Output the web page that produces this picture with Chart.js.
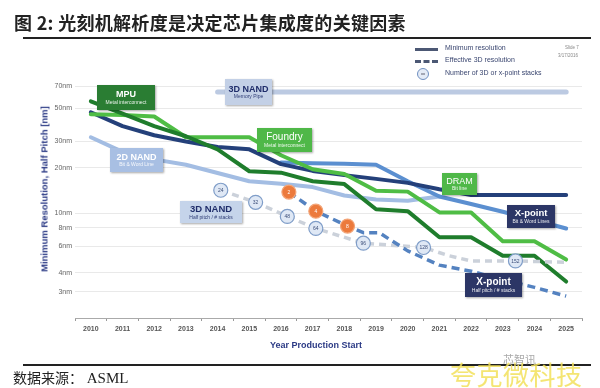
<!DOCTYPE html>
<html>
<head>
<meta charset="utf-8">
<script src="https://cdn.jsdelivr.net/npm/chart.js@4.4.0/dist/chart.umd.min.js"></script>
<style>
  body { margin: 0; background: #fff; }
  #wrap { position: relative; width: 600px; height: 388px; overflow: hidden; background: #fff; font-family: "Liberation Sans", Arial, sans-serif; }
  #c { position: absolute; left: 0; top: 0; }
  .abs { position: absolute; white-space: nowrap; }
  .tag { position: absolute; display: flex; flex-direction: column; justify-content: center; align-items: center;
         box-shadow: 1px 1px 2px rgba(0,0,0,.35); line-height: 1.15; white-space: nowrap; }
  .tag .big { font-weight: bold; }
  .rule { position: absolute; left: 23px; width: 568px; height: 1.5px; background: #222; }
</style>
</head>
<body>
<div id="wrap">
  <canvas id="c" width="600" height="388"></canvas>

  <div class="abs" style="left:14px;top:9px;font-family:'Noto Sans CJK SC';font-weight:bold;font-size:18px;color:#222;letter-spacing:0.3px;">图 2:&nbsp;光刻机解析度是决定芯片集成度的关键因素</div>
  <div class="rule" style="top:37px;"></div>

  <!-- legend -->
  <div class="abs" style="left:415px;top:48px;width:23px;height:3px;background:#4c5874;"></div>
  <div class="abs" style="left:415px;top:60px;width:23px;height:0;border-top:3px dashed #4c5874;"></div>
  <div class="abs" style="left:417px;top:68px;width:10px;height:10px;border:1px solid #6f8fc0;border-radius:50%;background:#e4ebf6;font-size:4px;line-height:10px;text-align:center;color:#334;">xx</div>
  <div class="abs" style="left:445px;top:44px;font-size:7px;color:#3a4670;">Minimum resolution</div>
  <div class="abs" style="left:445px;top:56px;font-size:7px;color:#3a4670;">Effective 3D resolution</div>
  <div class="abs" style="left:445px;top:69px;font-size:7px;color:#3a4670;">Number of 3D or x-point stacks</div>
  <div class="abs" style="left:565px;top:45px;font-size:4.5px;color:#888;">Slide 7</div>
  <div class="abs" style="left:558px;top:53px;font-size:4.5px;color:#888;">3/17/2016</div>

  <!-- axis titles -->
  <div class="abs" style="left:44px;top:189px;transform:translate(-50%,-50%) rotate(-90deg);font-weight:bold;font-size:9.5px;color:#2b3a85;">Minimum Resolution, Half Pitch [nm]</div>
  <div class="abs" style="left:316px;top:345px;transform:translate(-50%,-50%);font-weight:bold;font-size:9px;color:#2b3a85;">Year Production Start</div>

  <div id="tags"></div>

  <div class="rule" style="top:364px;"></div>
  <div class="abs" style="left:13px;top:369px;font-family:'Noto Sans CJK SC';font-size:14px;color:#222;line-height:16px;">数据来源：<span style="font-family:'Liberation Serif';font-size:15px;">&nbsp;ASML</span></div>
  <div class="abs" style="left:503px;top:352px;font-family:'Noto Sans CJK SC';font-size:11px;line-height:14px;color:#aaa;">芯智讯</div>
  <div class="abs" style="left:450px;top:361px;font-family:'Noto Sans CJK SC';font-size:26px;line-height:26px;color:rgba(242,224,90,0.85);letter-spacing:0.5px;">夸克微科技</div>
</div>

<script>
// chart values
const years = [2010, 2011, 2012, 2013, 2014, 2015, 2016, 2017, 2018, 2019, 2020, 2021, 2022, 2023, 2024, 2025];
const yTicks = [3, 4, 6, 8, 10, 20, 30, 50, 70];

const mpuValues      = [55.6, 46, 38, 32.5, 26.6, 19, 18.6, 16.3, 15.6, 10.6, 10.3, 6.9, 6.9, 5.2, 5.2, 3.5];
const foundryValues  = [45.5, 45, 44, 32, 32, 32, 24.3, 19.6, 18.2, 14.1, 13.9, 10.1, 10.1, 6.5, 6.5, 4.9];
const dramValues     = [47, 38, 33, 30, 27.6, 26.6, 21.2, 19.1, 17.9, 16.9, 15.9, 14.4, 13.2, 13.2, 13.2, 13.2];
const xpointValues   = [null, null, null, null, null, null, 21.7, 21.5, 21.3, 21, 16.3, 12.9, 11.5, 10.2, 9, 7.9];
const nand2dValues   = [32, 25.6, 22.8, 21, 18.5, 16.3, 15.7, 14.9, 13.1, 12.3, 12.1, 12.9, null, null, null, null];
const memPipeValues  = [null, null, null, null, 64, 64, 64, 64, 64, 64, 64, 64, 64, 64, 64, 64];

// effective 3D resolution (dashed)
const nand3dYears  = [2014.1, 2015.2, 2016.2, 2017.1, 2018.6, 2020.5, 2021.3, 2022, 2023.4, 2025];
const nand3dValues = [14.2, 11.8, 9.5, 7.9, 6.3, 5.9, 5.2, 4.8, 4.8, 4.7];
const xpHalfYears  = [2016.25, 2017.1, 2018.1, 2018.6, 2019.1, 2020, 2021, 2022, 2023, 2024, 2025];
const xpHalfValues = [13.8, 10.3, 8.2, 7.4, 7.4, 5.6, 4.5, 4.1, 3.6, 3.2, 2.8];

// stack count circles
const nandStackYears  = [2014.1, 2015.2, 2016.2, 2017.1, 2018.6, 2020.5, 2023.4];
const nandStackValues = [14.2, 11.8, 9.5, 7.9, 6.3, 5.9, 4.8];
const nandStackLabels = ['24', '32', '48', '64', '96', '128', '152'];
const xpStackYears  = [2016.25, 2017.1, 2018.1];
const xpStackValues = [13.8, 10.3, 8.2];
const xpStackLabels = ['2', '4', '8'];

// label boxes
const tags = [
  { big: 'MPU', small: 'Metal interconnect', x: 97, y: 85, w: 58, h: 25, bg: '#2a7d33', fg: '#fff', bs: 9 },
  { big: '3D NAND', small: 'Memory Pipe', x: 225, y: 79, w: 47, h: 26, bg: '#c3d0e6', fg: '#1f2d6a', bs: 9 },
  { big: 'Foundry', small: 'Metal interconnect', x: 257, y: 128, w: 55, h: 24, bg: '#4fb848', fg: '#fff', bs: 10, normal: true },
  { big: '2D NAND', small: 'Bit & Word Line', x: 110, y: 148, w: 53, h: 24, bg: '#a8bfe3', fg: '#fff', bs: 9 },
  { big: '3D NAND', small: 'Half pitch / # stacks', x: 180, y: 201, w: 62, h: 22, bg: '#c5d4ea', fg: '#1f2d6a', bs: 9.5 },
  { big: 'DRAM', small: 'Bit line', x: 442, y: 173, w: 35, h: 22, bg: '#4fb848', fg: '#fff', bs: 9, normal: true },
  { big: 'X-point', small: 'Bit & Word Lines', x: 507, y: 205, w: 48, h: 23, bg: '#2c3666', fg: '#fff', bs: 9.5 },
  { big: 'X-point', small: 'Half pitch / # stacks', x: 465, y: 273, w: 57, h: 24, bg: '#2c3666', fg: '#fff', bs: 10 }
];

const tagBox = document.getElementById('tags');
tags.forEach(t => {
  const d = document.createElement('div');
  d.className = 'tag';
  d.style.cssText = `left:${t.x}px;top:${t.y}px;width:${t.w}px;height:${t.h}px;background:${t.bg};color:${t.fg};`;
  d.innerHTML = `<span class="big" style="font-size:${t.bs}px;${t.normal ? 'font-weight:normal;' : ''}">${t.big}</span>` +
                `<span style="font-size:5px;opacity:.9">${t.small}</span>`;
  tagBox.appendChild(d);
});

function pts(vals) {
  return years.map((y, i) => ({ x: y, y: vals[i] })).filter(p => p.y !== null);
}
function pairs(xs, vs) {
  return xs.map((x, i) => ({ x: x, y: vs[i] }));
}
function solid(data, color, order, w) {
  return { data: data, borderColor: color, borderWidth: w || 4, pointRadius: 0, tension: 0, fill: false, order: order,
           borderJoinStyle: 'round', borderCapStyle: 'round' };
}

// writes the stack numbers into the circles
const circleText = {
  id: 'circleText',
  afterDatasetsDraw(chart) {
    const ctx = chart.ctx;
    chart.data.datasets.forEach((ds, i) => {
      if (!ds.stackLabels) return;
      chart.getDatasetMeta(i).data.forEach((pt, j) => {
        ctx.save();
        ctx.font = '5px "Liberation Sans", Arial';
        ctx.fillStyle = ds.textColor;
        ctx.textAlign = 'center';
        ctx.textBaseline = 'middle';
        ctx.fillText(ds.stackLabels[j], pt.x, pt.y + 0.5);
        ctx.restore();
      });
    });
  }
};

new Chart(document.getElementById('c'), {
  type: 'line',
  data: {
    datasets: [
      { type: 'scatter', data: pairs(nandStackYears, nandStackValues), stackLabels: nandStackLabels, textColor: '#3d4f7a',
        pointRadius: 7, backgroundColor: '#dfe8f5', borderColor: '#7f9dc8', borderWidth: 1.2, showLine: false, order: 0 },
      { type: 'scatter', data: pairs(xpStackYears, xpStackValues), stackLabels: xpStackLabels, textColor: '#fff',
        pointRadius: 7, backgroundColor: '#ec7a3c', borderColor: '#f3a578', borderWidth: 1.2, showLine: false, order: 0 },
      Object.assign(solid(pairs(xpHalfYears, xpHalfValues), '#5482c0', 1, 3.5), { borderDash: [8, 5], borderCapStyle: 'butt' }),
      Object.assign(solid(pairs(nand3dYears, nand3dValues), '#cbd1da', 2, 3.5), { borderDash: [7, 5], borderCapStyle: 'butt' }),
      solid(pts(mpuValues), '#1f7d2c', 3),
      solid(pts(foundryValues), '#4fbd45', 4),
      solid(pts(dramValues), '#24407a', 5),
      solid(pts(xpointValues), '#5b8fd0', 6),
      solid(pts(nand2dValues), '#a3bde3', 7),
      solid(pts(memPipeValues), '#bccae2', 8, 5)
    ]
  },
  plugins: [circleText],
  options: {
    responsive: false,
    animation: false,
    devicePixelRatio: 1,
    layout: { padding: { left: 0, top: 63, right: 18, bottom: 50 } },
    plugins: { legend: { display: false }, tooltip: { enabled: false } },
    scales: {
      x: {
        type: 'linear',
        min: 2009.5,
        max: 2025.5,
        afterBuildTicks: s => {
          s.ticks = [];
          for (let v = 2009.5; v <= 2025.5; v += 0.5) s.ticks.push({ value: v });
        },
        afterFit: s => { s.height = 20; },
        grid: {
          drawOnChartArea: false,
          tickLength: 3,
          tickColor: c => (c.tick && c.tick.value % 1 !== 0) ? '#999' : 'rgba(0,0,0,0)'
        },
        border: { display: true, color: '#aaa', width: 1 },
        ticks: {
          autoSkip: false,
          maxRotation: 0,
          padding: 4,
          color: '#555',
          font: { size: 7, weight: 'bold', family: '"Liberation Sans", Arial' },
          callback: v => (v % 1 === 0 ? String(v) : '')
        }
      },
      y: {
        type: 'logarithmic',
        min: 2,
        max: 100,
        afterBuildTicks: s => { s.ticks = yTicks.map(v => ({ value: v })); },
        afterFit: s => { s.width = 75; },
        grid: { color: '#e9e9e9', lineWidth: 1, drawTicks: false },
        border: { display: false },
        ticks: {
          padding: 3,
          color: '#666',
          font: { size: 7, family: '"Liberation Sans", Arial' },
          callback: v => v + 'nm'
        }
      }
    }
  }
});
</script>
</body>
</html>
